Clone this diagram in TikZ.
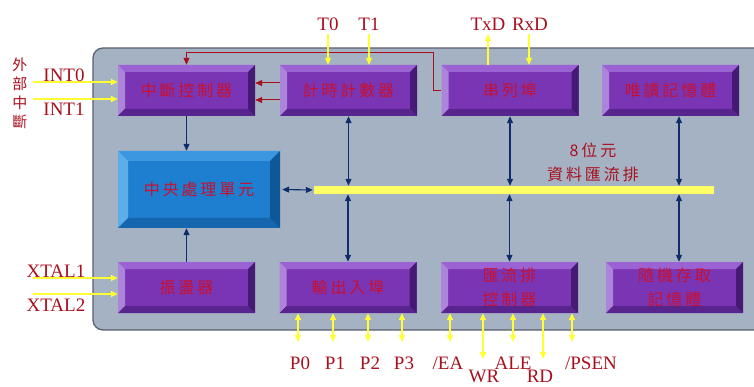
\documentclass[tikz,border=0pt]{standalone}
\usepackage{fontspec}
\setmainfont{Liberation Serif}
\newfontfamily\cjk[LetterSpace=18]{Noto Sans CJK TC}
\newfontfamily\cjkplain{Noto Sans CJK TC}
\usetikzlibrary{arrows.meta,calc,positioning}
\definecolor{panelfill}{HTML}{A5B2C4}
\definecolor{paneledge}{HTML}{5A606E}
\definecolor{purpmain}{HTML}{7A35B5}
\definecolor{purptop}{HTML}{9A62D2}
\definecolor{purpleft}{HTML}{AC84DA}
\definecolor{purpbot}{HTML}{58248E}
\definecolor{purpright}{HTML}{461A74}
\definecolor{bluemain}{HTML}{1E7ED0}
\definecolor{bluetop}{HTML}{3C96E0}
\definecolor{blueleft}{HTML}{5CAEEA}
\definecolor{bluebot}{HTML}{1566AE}
\definecolor{blueright}{HTML}{0E5898}
\definecolor{sigred}{HTML}{A8101E}
\definecolor{boxred}{HTML}{C8102E}
\definecolor{navy}{HTML}{0F2D6B}
\definecolor{sigyellow}{HTML}{FFFF33}
\definecolor{busyellow}{HTML}{FFFF66}

\begin{document}
\begin{tikzpicture}[x=1pt,y=-1pt,>={Triangle[length=7pt,width=6pt]},
  bevel/.style 2 args={fill=#1main,inner sep=0pt,text=boxred,align=center,
    font=\cjk\fontsize{16}{24}\selectfont,
    path picture={
      \coordinate (pNW) at (path picture bounding box.north west);
      \coordinate (pNE) at (path picture bounding box.north east);
      \coordinate (pSW) at (path picture bounding box.south west);
      \coordinate (pSE) at (path picture bounding box.south east);
      \fill[#1top] (pNW) -- (pNE) -- ([shift={(-#2,-#2)}]pNE) -- ([shift={(#2,-#2)}]pNW) -- cycle;
      \fill[#1left] (pNW) -- ([shift={(#2,-#2)}]pNW) -- ([shift={(#2,#2)}]pSW) -- (pSW) -- cycle;
      \fill[#1bot] (pSW) -- ([shift={(#2,#2)}]pSW) -- ([shift={(-#2,#2)}]pSE) -- (pSE) -- cycle;
      \fill[#1right] (pNE) -- (pSE) -- ([shift={(-#2,#2)}]pSE) -- ([shift={(-#2,-#2)}]pNE) -- cycle;
    }},
  chip/.style={bevel={purp}{7pt},minimum width=137pt,minimum height=51pt},
  cpubox/.style={bevel={blue}{10pt},minimum width=162pt,minimum height=77pt},
  sig/.style={text=sigred,font=\fontsize{19}{19}\selectfont,inner sep=0pt},
  cjklabel/.style={text=sigred,font=\cjk\fontsize{16}{24}\selectfont,inner sep=0pt,align=center},
  nline/.style={navy,line width=1.1pt},
  rline/.style={sigred,line width=1pt},
  yline/.style={sigyellow,line width=1.5pt}]
  \useasboundingbox (0,0) rectangle (754,387);
  \draw[fill=panelfill,draw=paneledge,line width=1.3pt,rounded corners=10pt]
    (93,48) rectangle (800,330);

  % blocks
  \node[chip] (intc) at (186.5,90.5) {中斷控制器};
  \node[chip] (tmr) at (348.5,90.5) {計時計數器};
  \node[chip] (uart) at (510,90.5) {串列埠};
  \node[chip] (rom) at (670.5,90.5) {唯讀記憶體};
  \node[cpubox] (cpu) at (199,189.5) {中央處理單元};
  \node[chip] (osc) at (186.5,287.5) {振盪器};
  \node[chip] (io) at (348,287.5) {輸出入埠};
  \node[chip] (bctl) at (509.5,287.5) {匯流排\\控制器};
  \node[chip] (ram) at (674.5,287.5) {隨機存取\\記憶體};

  % data bus
  \node[fill=busyellow,minimum width=400pt,minimum height=8pt,inner sep=0pt] (bus) at (514,190) {};
  \node[cjklabel] (buslbl) at (593,162) {8位元\\資料匯流排};

  % internal links
  \draw[nline,->] (intc.south) -- (intc.south |- cpu.north);
  \draw[nline,->] (osc.north) -- (osc.north |- cpu.south);
  \draw[nline,<->,shorten <=2pt,shorten >=1pt] (cpu.east) -- (bus.west);
  \draw[nline,<->] (tmr.south) -- (tmr.south |- bus.north);
  \draw[nline,<->] (io.north |- bus.south) -- (io.north);
  \draw[nline,<->] (uart.south) -- (uart.south |- bus.north);
  \draw[nline,<->] (bctl.north |- bus.south) -- (bctl.north);
  \coordinate (memtap) at (679,190);
  \draw[nline,<->] (memtap |- rom.south) -- (memtap |- bus.north);
  \draw[nline,<->] (memtap |- bus.south) -- (memtap |- ram.north);

  % interrupt requests
  \coordinate (rbend) at (433,53);
  \draw[rline,->] (uart.west) -| (rbend) -| (intc.north);
  \draw[rline,->] ([yshift=7.5pt]tmr.west) -- ([yshift=7.5pt]intc.east);
  \draw[rline,->] ([yshift=-9.5pt]tmr.west) -- ([yshift=-9.5pt]intc.east);

  % external pins
  \node[text=sigred,font=\cjkplain\fontsize{15}{19}\selectfont,align=center,inner sep=0pt] (ext) at (20,93.5) {外\\部\\中\\斷};
  \coordinate (int0s) at (33,82);
  \coordinate (int1s) at (33,99);
  \draw[yline,->] (int0s) -- (int0s -| intc.west);
  \draw[yline,->] (int1s) -- (int1s -| intc.west);
  \node[sig] (int0) at (64,75) {INT0};
  \node[sig] (int1) at (64,109) {INT1};

  \coordinate (xtal1s) at (33,278);
  \coordinate (xtal2s) at (33,294);
  \draw[yline,->] (xtal1s) -- (xtal1s -| osc.west);
  \draw[yline,->] (xtal2s) -- (xtal2s -| osc.west);
  \node[sig] (xtal1) at (56,271) {XTAL1};
  \node[sig] (xtal2) at (56,305) {XTAL2};

  \coordinate (t0s) at (328,34);
  \coordinate (t1s) at (369,34);
  \draw[yline,->] (t0s) -- (t0s |- tmr.north);
  \draw[yline,->] (t1s) -- (t1s |- tmr.north);
  \node[sig] (t0) at (328,24) {T0};
  \node[sig] (t1) at (369,24) {T1};

  \coordinate (txs) at (488,34);
  \coordinate (rxs) at (529,34);
  \draw[yline,->] (txs |- uart.north) -- (txs);
  \draw[yline,->] (rxs) -- (rxs |- uart.north);
  \node[sig] (txd) at (488,24) {TxD};
  \node[sig] (rxd) at (530,24) {RxD};

  \foreach \x/\n in {298/0,333/1,368/2,402/3}{
    \coordinate (port\n) at (\x,342);
    \draw[yline,<->] (port\n |- io.south) -- (port\n);
    \node[sig] (lblp\n) at (\x+2,363) {P\n};
  }

  \foreach \x/\y/\lx/\ly/\t in {450/342/448/363/{/EA},483/359/484/376/WR,
      513/342/513/363/ALE,543/359/540/376/RD,572/342/591/363/{/PSEN}}{
    \coordinate (ctl\x) at (\x,\y);
    \draw[yline,<->] (ctl\x |- bctl.south) -- (ctl\x);
    \node[sig] (lbl\x) at (\lx,\ly) {\t};
  }
\end{tikzpicture}
\end{document}
